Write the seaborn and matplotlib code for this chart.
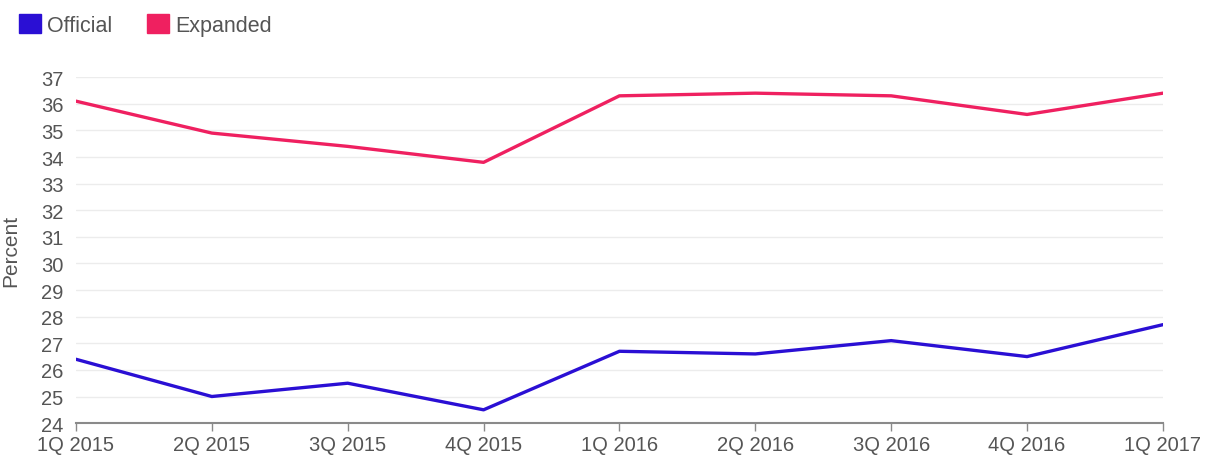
import matplotlib
matplotlib.use("Agg")
import matplotlib.pyplot as plt
from matplotlib.patches import Patch
import seaborn as sns
import pandas as pd

quarters = ["1Q 2015", "2Q 2015", "3Q 2015", "4Q 2015", "1Q 2016",
            "2Q 2016", "3Q 2016", "4Q 2016", "1Q 2017"]
official = [26.4, 25.0, 25.5, 24.5, 26.7, 26.6, 27.1, 26.5, 27.7]
expanded = [36.1, 34.9, 34.4, 33.8, 36.3, 36.4, 36.3, 35.6, 36.4]
series_names = ["Official", "Expanded"]
yticks = list(range(24, 38))

colors = {"Official": "#2a0fd4", "Expanded": "#ef2060"}

df = pd.DataFrame({
    "idx": list(range(len(quarters))) * 2,
    "quarter": quarters * 2,
    "value": official + expanded,
    "series": ["Official"] * len(quarters) + ["Expanded"] * len(quarters),
})

sns.set_theme(style="white")
plt.rcParams["font.family"] = ["Liberation Sans", "DejaVu Sans"]

fig = plt.figure(figsize=(12.19, 4.6), dpi=100)
ax = fig.add_axes([0.0623, 0.078, 0.8917, 0.752])

sns.lineplot(data=df, x="idx", y="value", hue="series", hue_order=series_names,
             palette=colors, linewidth=2.4, ax=ax, legend=False)

ax.set_xlim(0, len(quarters) - 1)
ax.set_ylim(24, 37)
ax.set_xticks(range(len(quarters)))
ax.set_xticklabels(quarters)
ax.set_yticks(yticks)
ax.set_yticklabels([str(t) for t in yticks])
ax.grid(axis="y", color="#ececec", linewidth=1)
ax.set_axisbelow(True)
for s in ["top", "right", "left"]:
    ax.spines[s].set_visible(False)
ax.spines["bottom"].set_color("#8a8a8a")
ax.spines["bottom"].set_linewidth(1.5)
ax.tick_params(axis="x", which="major", bottom=True, length=6, width=1, color="#8a8a8a",
               labelsize=14.5, labelcolor="#555555", pad=2.5)
ax.tick_params(axis="y", left=False, labelsize=14.5, labelcolor="#555555", pad=3)
ax.set_xlabel("")
ax.set_ylabel("Percent", fontsize=15, color="#555555")
ax.yaxis.set_label_coords(-0.051, 0.5)

handles = [Patch(facecolor=colors[n], edgecolor=colors[n], label=n) for n in series_names]
fig.legend(handles=handles, loc="upper left", bbox_to_anchor=(0.0, 1.01), ncol=2,
           frameon=False, fontsize=15.5, handlelength=1.0, handleheight=1.0,
           handletextpad=0.3, columnspacing=1.6, labelcolor="#555555")

fig.savefig("out.png", dpi=100)
